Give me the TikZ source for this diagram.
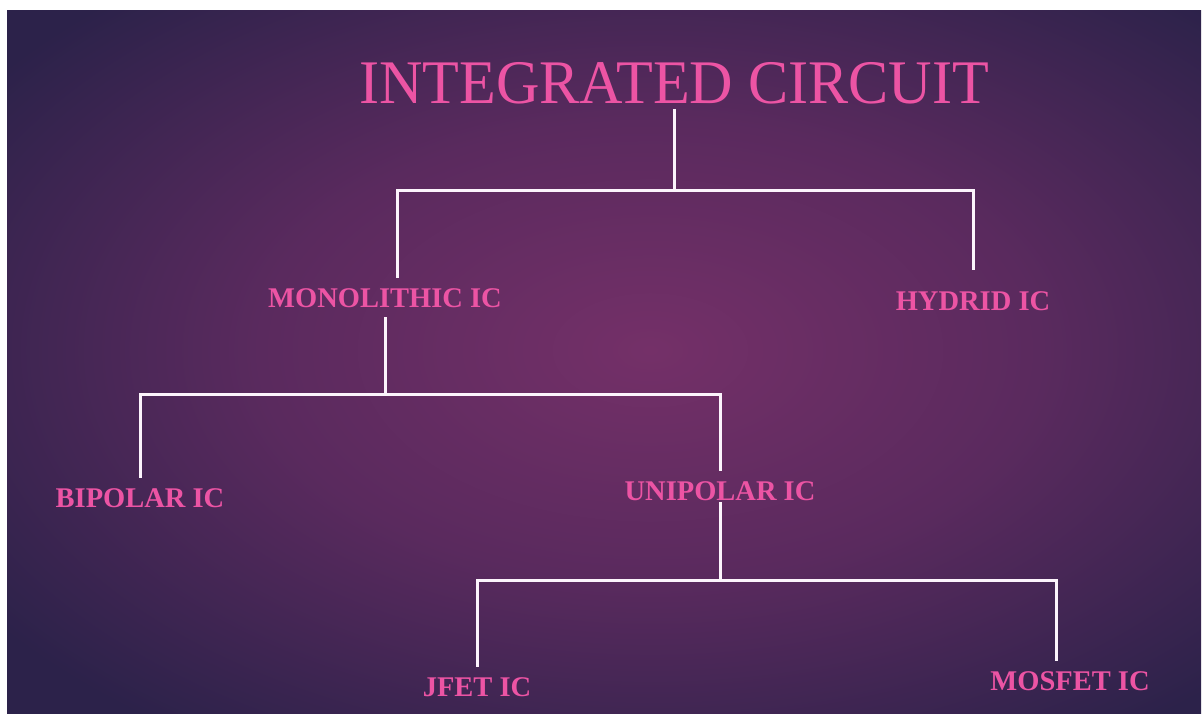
\documentclass[tikz,border=0pt]{standalone}
\usepackage{fontspec}
\setmainfont{Liberation Serif}
\definecolor{TitlePink}{RGB}{236,84,164}
\definecolor{WireWhite}{RGB}{252,244,252}
\definecolor{GlowCenter}{RGB}{116,48,104}
\definecolor{GlowMid}{RGB}{90,42,94}
\definecolor{GlowEdge}{RGB}{44,34,74}
\pgfdeclareradialshading{bgglow}{\pgfpoint{0bp}{0bp}}{%
    color(0bp)=(GlowCenter); color(15bp)=(GlowMid);
    color(31bp)=(GlowEdge); color(50bp)=(GlowEdge)}

\begin{document}
\begin{tikzpicture}[
    x=1pt, y=-1pt,
    title/.style={text=TitlePink, font=\fontsize{62}{64}\selectfont,
        inner sep=5pt, anchor=base},
    branch/.style={text=TitlePink, font=\bfseries\fontsize{28.5}{30}\selectfont,
        inner sep=10pt, anchor=base},
    wire/.style={draw=WireWhite, line width=3pt, line join=miter}
]

% Background
\useasboundingbox (0,0) rectangle (1203,713);
\fill[white] (0,0) rectangle (1203,713);
\begin{scope}
    \clip (7,10) rectangle (1201,713);
    \shade[shading=bgglow] (0,-30) rectangle (1300,730);
\end{scope}

% Labels
\node[title] (ic) at (674,103)
    {\scalebox{0.97}[1]{INTEGRATED CIRCUIT}};
\node[branch] (mono) at (385,307) {MONOLITHIC IC};
\node[branch] (hyb) at (973,310) {HYDRID IC};
\node[branch] (bip) at (140,507) {BIPOLAR IC};
\node[branch] (uni) at (720,500) {UNIPOLAR IC};
\node[branch] (jfet) at (477,696) {JFET IC};
\node[branch] (mos) at (1070,690) {MOSFET IC};

% Bus ends
\coordinate (b1l) at (397,190);
\coordinate (b1r) at (973,190);
\coordinate (b2l) at (140,394);
\coordinate (b2r) at (720,394);
\coordinate (b3l) at (477,580);
\coordinate (b3r) at (1056,580);

% Level 1
\draw[wire]
    (ic.south) -- (ic.south |- b1l);
\draw[wire, shorten >=11pt]
    (b1l |- mono.north) -- (b1l) -- (b1r) -- (hyb.north);

% Level 2
\draw[wire]
    (mono.south) -- (mono.south |- b2l);
\draw[wire]
    (bip.north) -- (b2l) -- (b2r) -- (uni.north);

% Level 3
\draw[wire, shorten <=-8pt]
    (uni.south) -- (uni.south |- b3l);
\draw[wire]
    (jfet.north) -- (b3l) -- (b3r) -- (b3r |- mos.north);

\end{tikzpicture}
\end{document}
